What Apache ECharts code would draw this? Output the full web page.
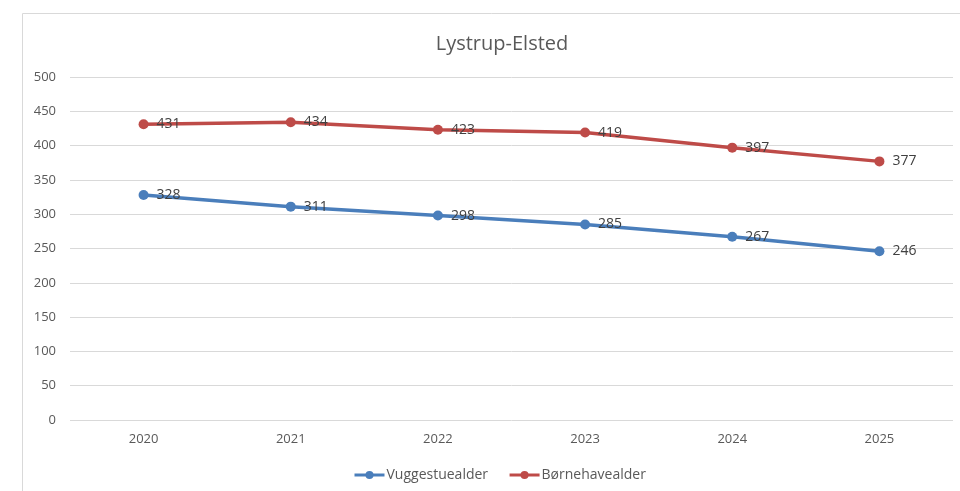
<!DOCTYPE html>
<html>
<head>
<meta charset="utf-8">
<script src="https://cdn.jsdelivr.net/npm/echarts@6/dist/echarts.min.js"></script>
<style>
  html, body { margin: 0; padding: 0; background: #fff; }
  #chart { width: 960px; height: 491px; }
</style>
</head>
<body>
<div id="chart"></div>
<script>
var years = ['2020', '2021', '2022', '2023', '2024', '2025'];
var vuggestue = [328, 311, 298, 285, 267, 246];
var boernehave = [431, 434, 423, 419, 397, 377];
var yTicks = { min: 0, max: 500, step: 50 };

var myChart = echarts.init(document.getElementById('chart'));
var lblStyle = {
    show: true,
    position: 'right',
    distance: 8,
    color: '#404040',
    fontSize: 14,
    fontFamily: 'Open Sans'
};
var option = {
    animation: false,
    textStyle: { fontFamily: 'Open Sans' },
    graphic: [{
        type: 'rect',
        shape: { x: 22.5, y: 13.5, width: 960, height: 500 },
        style: { fill: 'none', stroke: '#d9d9d9', lineWidth: 1 },
        silent: true
    }],
    title: {
        text: 'Lystrup-Elsted',
        left: 497,
        textAlign: 'center',
        top: 29,
        textStyle: { color: '#595959', fontSize: 20, fontWeight: 'normal', fontFamily: 'Open Sans' }
    },
    legend: {
        bottom: 4,
        left: 348,
        itemWidth: 30,
        itemHeight: 10,
        itemGap: 20,
        lineStyle: { width: 3 },
        textStyle: { color: '#595959', fontSize: 14, padding: [0, 0, 0, -3] },
        data: ['Vuggestuealder', 'Børnehavealder']
    },
    grid: { left: 70, right: 7, top: 77, bottom: 71, containLabel: false },
    xAxis: {
        type: 'category',
        data: years,
        boundaryGap: true,
        axisLine: { show: false },
        axisTick: { show: false },
        axisLabel: { color: '#595959', fontSize: 13, margin: 13 }
    },
    yAxis: {
        type: 'value',
        min: yTicks.min,
        max: yTicks.max,
        interval: yTicks.step,
        axisLine: { show: false },
        axisTick: { show: false },
        axisLabel: { color: '#595959', fontSize: 13, margin: 14 },
        splitLine: { lineStyle: { color: '#d9d9d9', width: 1 } }
    },
    series: [
        {
            name: 'Vuggestuealder',
            type: 'line',
            data: vuggestue,
            symbol: 'circle',
            symbolSize: 10,
            color: '#4a7ebb',
            lineStyle: { width: 3.5, color: '#4a7ebb' },
            itemStyle: { color: '#4a7ebb' },
            label: lblStyle
        },
        {
            name: 'Børnehavealder',
            type: 'line',
            data: boernehave,
            symbol: 'circle',
            symbolSize: 10,
            color: '#be4b48',
            lineStyle: { width: 3.5, color: '#be4b48' },
            itemStyle: { color: '#be4b48' },
            label: lblStyle
        }
    ]
};
myChart.setOption(option);
</script>
</body>
</html>
